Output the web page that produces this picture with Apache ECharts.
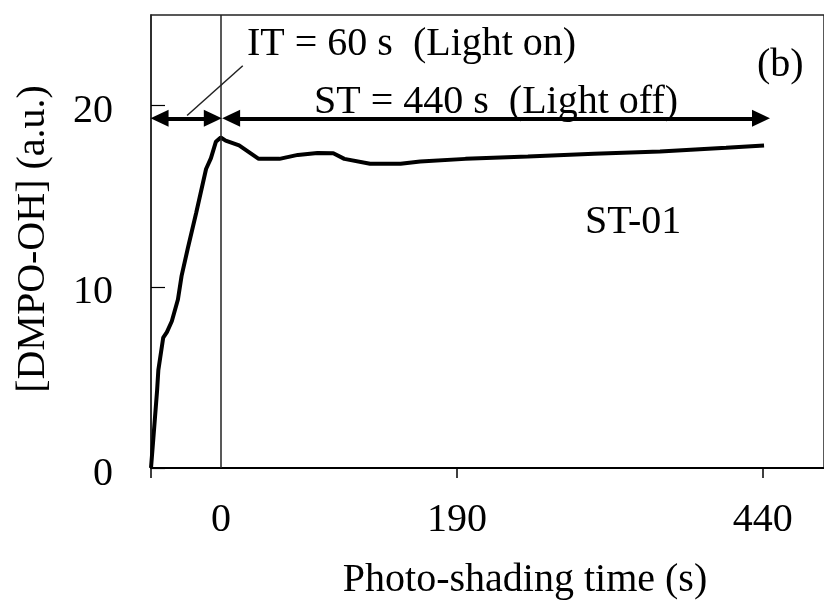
<!DOCTYPE html>
<html>
<head>
<meta charset="utf-8">
<script src="https://cdn.jsdelivr.net/npm/echarts@6/dist/echarts.min.js"></script>
<style>
html, body { margin: 0; padding: 0; background: #fff; }
#chart { width: 824px; height: 604px; }
</style>
</head>
<body>
<div id="chart"></div>
<script>
'use strict';

const FONT = '"Liberation Serif", "Times New Roman", serif';

// curve: total time (s) vs [DMPO-OH]
const arrTime = [0, 2, 5, 6, 10, 13, 17, 22, 25, 30, 37, 45, 49, 53, 57, 61, 72, 88, 105, 120, 136, 149, 158, 179, 204, 220, 257, 308, 362, 416, 470, 501];
const arrDmpo = [0, 1.7, 4.3, 5.4, 7.2, 7.5, 8.1, 9.3, 10.6, 12.1, 14.1, 16.5, 17.1, 18.0, 18.24, 18.07, 17.8, 17.06, 17.06, 17.28, 17.39, 17.37, 17.06, 16.79, 16.79, 16.91, 17.06, 17.19, 17.34, 17.47, 17.67, 17.8];

// annotation positions (in data units); arrow ends are symbol centres
const lightOff = 57.3;
const arrowLevel = 19.3;
const arrowIT = [7, 50.5];
const arrowST = [65.5, 498.5];
const leaderStart = [29.5, 19.45];
const leaderEnd = [75, 22.2];

// ticks and labels
const xTickValues = [0, 250, 500];
const xLabelValues = [57.3, 250, 500];
const xLabelTexts = ['0', '190', '440'];
const yTickValues = [0, 10, 20];

const chart = echarts.init(document.getElementById('chart'), null, { renderer: 'canvas' });

const arrData = arrTime.map((t, i) => [t, arrDmpo[i]]);

const arrowStyle = { color: '#000', width: 4, type: 'solid' };
const thinStyle = { color: '#222', width: 1.5, type: 'solid' };
const headSize = [17, 18];

const option = {
    backgroundColor: '#fff',
    animation: false,
    grid: {
        left: 151,
        top: 15,
        right: -9,
        bottom: 136,
        show: true,
        borderColor: '#222',
        borderWidth: 1.5,
        backgroundColor: 'transparent'
    },
    xAxis: {
        type: 'value',
        min: 0,
        max: 550,
        axisLine: { lineStyle: { color: '#000', width: 2 } },
        axisTick: {
            customValues: xTickValues,
            length: 10,
            lineStyle: { color: '#000', width: 1.5 }
        },
        axisLabel: {
            customValues: xLabelValues,
            formatter: (v) => {
                let k = 0;
                xLabelValues.forEach((x, i) => {
                    if (Math.abs(x - v) < Math.abs(xLabelValues[k] - v)) k = i;
                });
                return xLabelTexts[k];
            },
            margin: 32,
            fontSize: 40,
            fontFamily: FONT,
            color: '#000'
        },
        splitLine: { show: false }
    },
    yAxis: {
        type: 'value',
        min: 0,
        max: 25,
        axisLine: { show: true, lineStyle: { color: '#222', width: 1.5 } },
        axisTick: {
            show: true,
            inside: true,
            customValues: yTickValues,
            length: 14,
            lineStyle: { color: '#000', width: 1.2 }
        },
        axisLabel: {
            customValues: yTickValues,
            margin: 38,
            verticalAlign: 'top',
            lineHeight: 12,
            fontSize: 40,
            fontFamily: FONT,
            color: '#000'
        },
        splitLine: { show: false }
    },
    series: [{
        type: 'line',
        data: arrData,
        showSymbol: false,
        symbol: 'none',
        lineStyle: { color: '#000', width: 4 },
        markLine: {
            silent: true,
            animation: false,
            symbol: ['none', 'none'],
            label: { show: false },
            data: [
                [
                    { coord: [lightOff, 0], lineStyle: thinStyle },
                    { coord: [lightOff, 25] }
                ],
                [
                    { coord: [arrowIT[0], arrowLevel], symbol: 'triangle', symbolSize: headSize, lineStyle: arrowStyle },
                    { coord: [arrowIT[1], arrowLevel], symbol: 'triangle', symbolSize: headSize }
                ],
                [
                    { coord: [arrowST[0], arrowLevel], symbol: 'triangle', symbolSize: headSize, lineStyle: arrowStyle },
                    { coord: [arrowST[1], arrowLevel], symbol: 'triangle', symbolSize: headSize }
                ],
                [
                    { coord: leaderStart, lineStyle: thinStyle },
                    { coord: leaderEnd }
                ]
            ]
        }
    }],
    graphic: [
        {
            type: 'text', x: 247, y: 44,
            style: { text: 'IT = 60 s  (Light on)', font: '40px ' + FONT, fill: '#000', textAlign: 'left', textVerticalAlign: 'middle' }
        },
        {
            type: 'text', x: 314, y: 102,
            style: { text: 'ST = 440 s  (Light off)', font: '40px ' + FONT, fill: '#000', textAlign: 'left', textVerticalAlign: 'middle' }
        },
        {
            type: 'text', x: 757, y: 65,
            style: { text: '(b)', font: '40px ' + FONT, fill: '#000', textAlign: 'left', textVerticalAlign: 'middle' }
        },
        {
            type: 'text', x: 585, y: 222,
            style: { text: 'ST-01', font: '40px ' + FONT, fill: '#000', textAlign: 'left', textVerticalAlign: 'middle' }
        },
        {
            type: 'text', x: 525, y: 580,
            style: { text: 'Photo-shading time (s)', font: '40px ' + FONT, fill: '#000', textAlign: 'center', textVerticalAlign: 'middle' }
        },
        {
            type: 'text', x: 33, y: 239, rotation: Math.PI / 2,
            style: { text: '[DMPO-OH] (a.u.)', font: '40px ' + FONT, fill: '#000', textAlign: 'center', textVerticalAlign: 'middle' }
        }
    ]
};

chart.setOption(option);
</script>
</body>
</html>
